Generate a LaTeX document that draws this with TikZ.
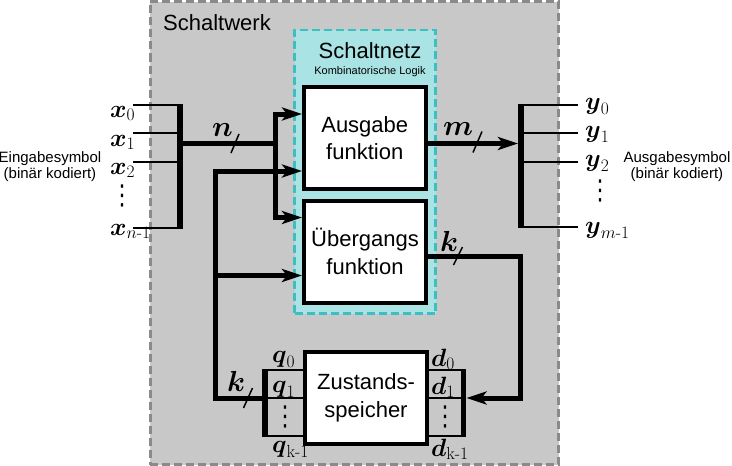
\RequirePackage{fix-cm}
\documentclass[tikz,border=0pt]{standalone}
\usepackage{amsmath}
\usepackage[no-math]{fontspec}
\setmainfont{Liberation Sans}
\newfontfamily\dejavu{DejaVu Sans}
\usepackage{graphicx}
\usetikzlibrary{arrows.meta,calc}

\definecolor{swfill}{HTML}{C8C8C8}
\definecolor{swborder}{HTML}{8A8A8A}
\definecolor{snfill}{HTML}{AAE3E3}
\definecolor{snborder}{HTML}{3CBFC2}

\newcommand\hy{\mathchar"002D }
\newcommand\bsy[1]{\boldsymbol{#1}}
\newcommand\myvd{\scalebox{1}[1.25]{\dejavu ⋮}}

\tikzset{
  bus/.style={line width=5pt},
  busbar/.style={line width=5.5pt},
  wire/.style={line width=1.8pt},
  arr/.style={-{Stealth[length=20pt,width=13pt,inset=5pt]}},
  funcbox/.style={draw, fill=white, line width=4pt, inner sep=0pt,
    font=\fontsize{22}{27.5}\selectfont, align=center},
  sig/.style={inner sep=0pt, font=\fontsize{25}{27}\selectfont},
  biglbl/.style={inner sep=0pt, font=\fontsize{29}{31}\selectfont},
  slashmark/.style={line width=1.5pt},
  sidetext/.style={font=\fontsize{15}{16}\selectfont, align=center, inner sep=0pt},
  dotsnode/.style={inner sep=0pt, font=\fontsize{22}{24}\selectfont},
}

\begin{document}
\begin{tikzpicture}[x=1pt,y=-1pt]
\useasboundingbox (0,0) rectangle (732,466);

% Schaltwerk
\node[draw=swborder, fill=swfill, line width=3pt, dash pattern=on 8pt off 4pt,
  minimum width=408.5pt, minimum height=463pt, inner sep=0pt] (sw) at (354.25,233) {};
\node[anchor=base west, inner sep=0pt, font=\fontsize{22}{26}\selectfont] (swlbl) at (163,30) {Schaltwerk};

% Schaltnetz
\node[draw=snborder, fill=snfill, line width=2.5pt, dash pattern=on 8pt off 4pt,
  minimum width=141pt, minimum height=283.5pt, inner sep=0pt] (sn) at (365,171.75) {};
\node[anchor=base, inner sep=0pt, font=\fontsize{22}{26}\selectfont] (snlbl) at (370,58) {Schaltnetz};
\node[anchor=base, inner sep=0pt, font=\fontsize{11}{13}\selectfont] (snsub) at (370,74) {Kombinatorische Logik};

% coordinates
\coordinate (xs0) at (133,105); \coordinate (xb0) at (180,105);
\coordinate (xs1) at (133,133); \coordinate (xb1) at (180,133);
\coordinate (xs2) at (133,162); \coordinate (xb2) at (180,162);
\coordinate (xsn) at (133,228); \coordinate (xbn) at (180,228);
\coordinate (xbt) at (180,104); \coordinate (xbb) at (180,229);
\coordinate (nstart) at (180,143.5);
\coordinate (jn) at (275.5,143.5);
\coordinate (rowA1) at (0,114);
\coordinate (rowA2) at (0,171);
\coordinate (rowU1) at (0,217.5);
\coordinate (rowU2) at (0,275.5);
\coordinate (fbtop) at (215,171);
\coordinate (fbmid) at (215,275.5);
\coordinate (rowM) at (0,143.5);
\coordinate (rowK) at (0,256);
\coordinate (frc) at (520.5,398);

\coordinate (yb0) at (521,105); \coordinate (ye0) at (578,105);
\coordinate (yb1) at (521,133); \coordinate (ye1) at (578,133);
\coordinate (yb2) at (521,162); \coordinate (ye2) at (578,162);
\coordinate (ybm) at (521,227); \coordinate (yem) at (578,227);
\coordinate (ybt) at (521,104); \coordinate (ybb) at (521,228);
\coordinate (ybin) at (518,143.5);

\coordinate (lq0) at (265,370); \coordinate (lq1) at (265,398); \coordinate (lqk) at (265,436);
\coordinate (lbt) at (265,369); \coordinate (lbb) at (265,437);
\coordinate (rd0) at (463.5,370); \coordinate (rd1) at (463.5,398); \coordinate (rdk) at (463.5,436);
\coordinate (rbt) at (463.5,369); \coordinate (rbb) at (463.5,437);
\coordinate (rin) at (466.5,398);

% boxes
\node[funcbox, minimum width=121.5pt, minimum height=102pt] (ausg) at (364.75,138) {Ausgabe\\funktion};
\node[funcbox, minimum width=122pt, minimum height=102pt] (ueb) at (365,251.5) {Übergangs\\funktion};

% input bus
\draw[wire] (xs0) -- (xb0);
\draw[wire] (xs1) -- (xb1);
\draw[wire] (xs2) -- (xb2);
\draw[wire] (xsn) -- (xbn);
\draw[busbar] (xbt) -- (xbb);
\node[sig, anchor=base west] (lx0) at (110,117) {$\bsy{x}_0$};
\node[sig, anchor=base west] (lx1) at (110,146) {$\bsy{x}_1$};
\node[sig, anchor=base west] (lx2) at (110,174) {$\bsy{x}_2$};
\node[sig, anchor=base west] (lxn) at (110,235) {$\bsy{x}_{n\hy 1}$};
\node[dotsnode] (lvd) at (122,196) {\myvd};

% n bus to both functions
\draw[bus] (nstart) -- (jn);
\draw[bus,arr] (jn) |- (ausg.west |- rowA1);
\draw[bus,arr] (jn) |- (ueb.west |- rowU1);
\coordinate (ncross) at (235,143.5);
\draw[slashmark] ($(ncross)+(-4,9.5)$) -- ($(ncross)+(4,-9.5)$);
\node[biglbl, anchor=base west] (nlbl) at (212,136) {$\bsy{n}$};

% Zustandsspeicher
\node[funcbox, minimum width=122pt, minimum height=92pt] (zs) at (366,398) {Zustands-\\speicher};

% left register (q)
\draw[wire] (lq0) -- (zs.west |- lq0);
\draw[wire] (lq1) -- (zs.west |- lq1);
\draw[wire] (lqk) -- (zs.west |- lqk);
\draw[busbar] (lbt) -- (lbb);
\node[sig, anchor=base west] (lq0l) at (272,362) {$\bsy{q}_0$};
\node[sig, anchor=base west] (lq1l) at (272,392) {$\bsy{q}_1$};
\node[sig, anchor=base west] (lqkl) at (272,452) {$\bsy{q}_{\mathrm{k}\hy 1}$};
\node[dotsnode] (lqvd) at (285,417) {\myvd};

% right register (d)
\draw[wire] (zs.east |- rd0) -- (rd0);
\draw[wire] (zs.east |- rd1) -- (rd1);
\draw[wire] (zs.east |- rdk) -- (rdk);
\draw[busbar] (rbt) -- (rbb);
\node[sig, anchor=base west] (rd0l) at (431,366) {$\bsy{d}_0$};
\node[sig, anchor=base west] (rd1l) at (431,394) {$\bsy{d}_1$};
\node[sig, anchor=base west] (rdkl) at (431,456) {$\bsy{d}_{\mathrm{k}\hy 1}$};
\node[dotsnode] (rdvd) at (445,417) {\myvd};

% feedback from state memory to functions
\draw[bus,arr] (lq1) -| (fbtop) -- (ausg.west |- rowA2);
\draw[bus,arr] (fbmid) -- (ueb.west |- rowU2);
\coordinate (kcrossL) at (248,398);
\draw[slashmark] ($(kcrossL)+(-4.5,10)$) -- ($(kcrossL)+(4.5,-10)$);
\node[biglbl, anchor=base west] (klblL) at (227,391) {$\bsy{k}$};

% Uebergang to state memory
\draw[bus,arr] (ueb.east |- rowK) -| (frc) -- (rin);
\coordinate (kcrossR) at (458,256);
\draw[slashmark] ($(kcrossR)+(-4.5,9)$) -- ($(kcrossR)+(4.5,-9)$);
\node[biglbl, anchor=base west] (klblR) at (440,251) {$\bsy{k}$};

% output
\draw[bus,arr] (ausg.east |- rowM) -- (ybin);
\coordinate (mcross) at (477.5,142);
\draw[slashmark] ($(mcross)+(-4.5,10.5)$) -- ($(mcross)+(4.5,-10.5)$);
\node[biglbl, anchor=base west] (mlbl) at (443,135) {$\bsy{m}$};

\draw[wire] (yb0) -- (ye0);
\draw[wire] (yb1) -- (ye1);
\draw[wire] (yb2) -- (ye2);
\draw[wire] (ybm) -- (yem);
\draw[busbar] (ybt) -- (ybb);
\node[sig, anchor=base west] (ly0) at (585,109) {$\bsy{y}_0$};
\node[sig, anchor=base west] (ly1) at (585,137) {$\bsy{y}_1$};
\node[sig, anchor=base west] (ly2) at (585,166) {$\bsy{y}_2$};
\node[sig, anchor=base west] (lym) at (585,233) {$\bsy{y}_{m\hy 1}$};
\node[dotsnode] (rvd) at (600,191) {\myvd};

% side texts
\node[sidetext] (insym) at (50,167) {Eingabesymbol\\(binär kodiert)};
\node[sidetext] (outsym) at (677,167) {Ausgabesymbol\\(binär kodiert)};
\end{tikzpicture}
\end{document}
